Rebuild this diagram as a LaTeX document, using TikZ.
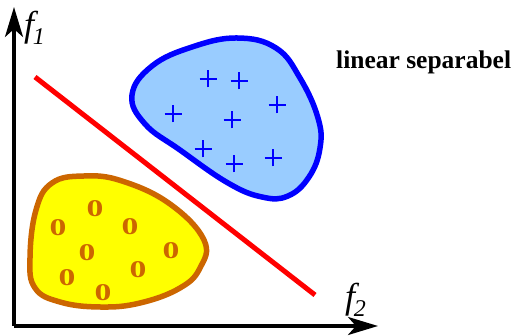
\documentclass[tikz,border=0pt]{standalone}
\usepackage{fontspec}
\setmainfont{Liberation Serif}
\usetikzlibrary{arrows.meta}
\definecolor{blobblue}{RGB}{0,0,255}
\definecolor{blobfill}{RGB}{153,204,255}
\definecolor{blobbrown}{RGB}{204,102,0}
\definecolor{blobyellow}{RGB}{255,255,0}
\tikzset{
  axis/.style={line width=3.5pt,-{Stealth[length=30pt,width=18pt,inset=8pt]}},
  plusmark/.style={draw=blobblue, line width=1.8pt},
  omark/.style={font=\bfseries\fontsize{24}{24}\selectfont, text=blobbrown, inner sep=0pt, xscale=1.4},
  flabel/.style={font=\itshape\fontsize{36}{36}\selectfont, inner sep=0pt},
}
\begin{document}
\begin{tikzpicture}[x=1pt,y=-1pt]
\useasboundingbox (0,0) rectangle (515,336);
% blue blob
\draw[blobblue, fill=blobfill, line width=5.5pt]
  plot[smooth cycle, tension=0.7] coordinates {(132,95) (152,66) (192,47) (237,38) (276,48) (300,78) (318,118) (320,148) (309,177) (288,196) (262,197) (228,183) (180,150) (145,124)};
% yellow blob
\draw[blobbrown, fill=blobyellow, line width=5.5pt]
  plot[smooth cycle, tension=0.7] coordinates {(30,258) (36,210) (52,183) (84,176) (122,181) (170,204) (204,240) (200,268) (180,288) (140,303) (100,307) (60,302) (35,288)};
% red separator
\coordinate (r1) at (35,77);
\coordinate (r2) at (315,295);
\draw[red, line width=5pt] (r1) -- (r2);
% axes
\coordinate (o) at (14,326);
\coordinate (ytop) at (14,7);
\coordinate (xend) at (378,326);
\draw[axis] (o) -- (ytop);
\draw[axis] (o) -- (xend);
\node[flabel, anchor=base west] (f1) at (24,37) {f\hspace{-0.04em}\raisebox{-0.2em}{\fontsize{24}{24}\selectfont 1}};
\node[flabel, anchor=base west] (f2) at (345,309) {f\hspace{-0.04em}\raisebox{-0.2em}{\fontsize{24}{24}\selectfont 2}};
\node[font=\bfseries\fontsize{25.5}{25.5}\selectfont, anchor=base west, inner sep=0pt] (lab) at (336,69) {linear separabel};
% plus marks
\foreach \p/\q [count=\i] in {208/79, 239/81, 173/114, 232/120, 277/105, 203/149, 234/164, 273/158}{
  \coordinate (p\i) at (\p,\q);
  \draw[plusmark] ([xshift=-8.5pt]p\i) -- ([xshift=8.5pt]p\i) ([yshift=-8.5pt]p\i) -- ([yshift=8.5pt]p\i);
}
% o marks
\foreach \p/\q [count=\i] in {95/209, 58/228, 130/227, 87/253, 171/251, 67/278, 138/270, 103/293}
  \node[omark] (o\i) at (\p,\q) {0};
\end{tikzpicture}
\end{document}
